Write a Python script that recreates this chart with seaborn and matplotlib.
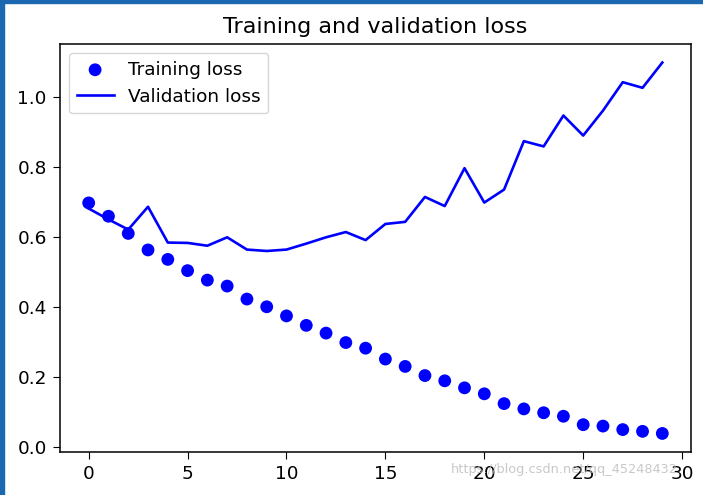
import numpy as np
import pandas as pd
import seaborn as sns
import matplotlib.pyplot as plt
from matplotlib.patches import Rectangle

# Loss values per epoch
epochs = list(range(30))
training_loss = [0.697, 0.659, 0.610, 0.563, 0.536, 0.504, 0.477, 0.460, 0.423, 0.401,
                 0.375, 0.348, 0.326, 0.299, 0.283, 0.252, 0.231, 0.205, 0.190, 0.170,
                 0.153, 0.125, 0.110, 0.099, 0.089, 0.065, 0.061, 0.051, 0.046, 0.040]
validation_loss = [0.681, 0.650, 0.621, 0.686, 0.584, 0.583, 0.575, 0.599, 0.564, 0.560,
                   0.564, 0.581, 0.599, 0.614, 0.591, 0.637, 0.643, 0.714, 0.688, 0.796,
                   0.698, 0.735, 0.873, 0.858, 0.946, 0.889, 0.960, 1.041, 1.025, 1.097]

df = pd.DataFrame({'epoch': epochs,
                   'train': training_loss,
                   'val': validation_loss})

fig = plt.figure(figsize=(7.03, 4.95), dpi=100)
W, H = 703, 495
ax = fig.add_axes([60 / W, 1 - 452 / H, (691 - 60) / W, (452 - 44) / H])

sns.scatterplot(data=df, x='epoch', y='train', ax=ax, color='b', s=85,
                edgecolor='none', label='Training loss')
sns.lineplot(data=df, x='epoch', y='val', ax=ax, color='b', linewidth=1.9,
             label='Validation loss')

ax.set_xlabel('')
ax.set_ylabel('')
ax.set_title('Training and validation loss', fontsize=16, pad=8)
ax.set_xticks([0, 5, 10, 15, 20, 25, 30])
ax.set_yticks([0.0, 0.2, 0.4, 0.6, 0.8, 1.0])
ax.tick_params(labelsize=13.3, length=5, pad=4.5)
for sp in ax.spines.values():
    sp.set_linewidth(1.1)
ax.legend(loc='upper left', fontsize=13.3, markerscale=1.0)

# screenshot frame (left and top)
fig.patches.append(Rectangle((0, 0), 4 / W, 1, transform=fig.transFigure,
                             color='#1b67b0', zorder=10))
fig.patches.append(Rectangle((0, 1 - 2.5 / H), 1, 2.5 / H, transform=fig.transFigure,
                             color='#1b67b0', zorder=10))

# watermark
fig.text(451 / W, 1 - 470 / H, 'https://blog.csdn.net/qq_45248432', fontsize=9.3,
         color='#bbbbbb', alpha=0.8, va='center', ha='left')

fig.savefig('out.png', dpi=100)
